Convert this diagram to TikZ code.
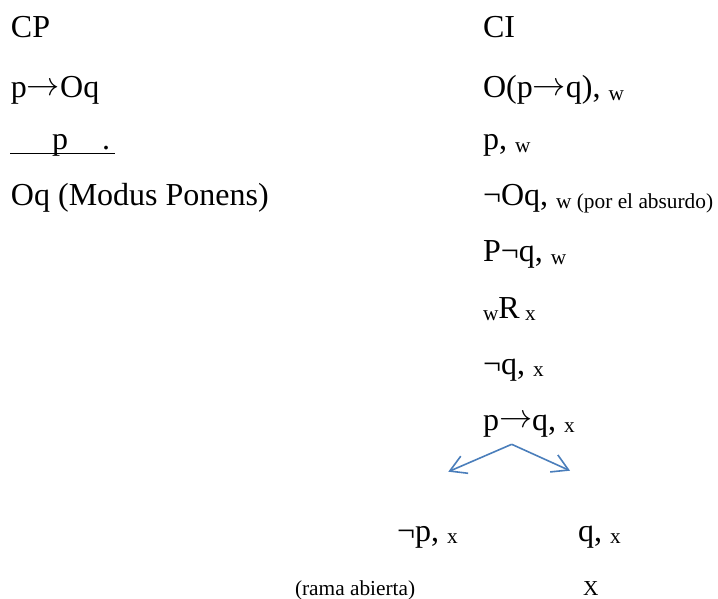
\documentclass[tikz,border=0pt]{standalone}
\usepackage{fontspec}
\setmainfont{Liberation Serif}
\usetikzlibrary{arrows.meta}
\definecolor{arrowblue}{HTML}{4A7EBB}
\newcommand\sbx[1]{\raisebox{-2.2pt}{\fontsize{16}{19}\selectfont #1}}
\newcommand\arr{\raisebox{0.08em}{$\rightarrow$}}
\begin{document}
\begin{tikzpicture}[x=0.75pt,y=-0.75pt,
  txt/.style={anchor=base west,inner sep=0pt,outer sep=0pt,font=\fontsize{24}{28}\selectfont},
  smalltxt/.style={anchor=base west,inner sep=0pt,outer sep=0pt,font=\fontsize{16}{19}\selectfont},
  branch/.style={draw=arrowblue,line width=1.2pt,-{Straight Barb[length=12pt,width=14pt,line width=1.2pt]}}]
\useasboundingbox (0,0) rectangle (718,599);
% left column
\node[txt] (cp) at (11,38) {CP};
\node[txt] (l1) at (11,98) {p\arr Oq};
\node[txt] (l2p) at (52,150) {p};
\node[txt] (l2d) at (102,150) {.};
\coordinate (ulA) at (10,153.5);
\coordinate (ulB) at (115,153.5);
\draw[line width=1.3pt] (ulA) -- (ulB);
\node[txt] (l3) at (11,206) {Oq (Modus Ponens)};
% right column
\node[txt] (ci) at (483,38) {CI};
\node[txt] (r1) at (483,98) {O(p\arr q), \sbx{w}};
\node[txt] (r2) at (483,150) {p, \sbx{w}};
\node[txt] (r3) at (483,206) {¬Oq, \sbx{w (por el absurdo)}};
\node[txt] (r4) at (483,262) {P¬q, \sbx{w}};
\node[txt] (r5) at (483,318) {\sbx{w}R\sbx{ x}};
\node[txt] (r6) at (483,374) {¬q, \sbx{x}};
\node[txt] (r7) at (483,430) {p\arr q, \sbx{x}};
% branches
\coordinate (apex) at (511.7,444.3);
\coordinate (lt) at (448.3,471.7);
\coordinate (rt) at (570,470.7);
\draw[branch] (apex) -- (lt);
\draw[branch] (apex) -- (rt);
\node[txt] (bl) at (397,541) {¬p, \sbx{x}};
\node[txt] (br) at (578,541) {q, \sbx{x}};
\node[smalltxt] (open) at (295,595) {(rama abierta)};
\node[smalltxt] (closed) at (583,595) {X};
\end{tikzpicture}
\end{document}
